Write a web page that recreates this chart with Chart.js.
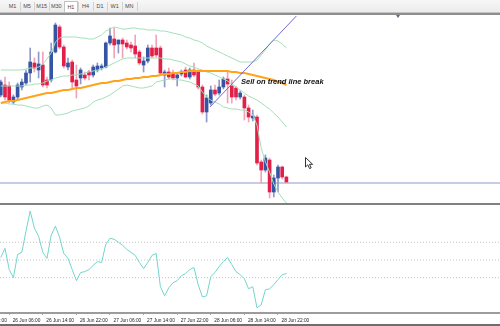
<!DOCTYPE html>
<html>
<head>
<meta charset="utf-8">
<script src="https://cdn.jsdelivr.net/npm/chart.js@4.4.1/dist/chart.umd.min.js"></script>
<style>
  html, body { margin: 0; padding: 0; background: #fff; }
  #wrap { position: relative; width: 500px; height: 326px; overflow: hidden; font-family: "Liberation Sans", Arial, sans-serif; }
  #toolbar { position: absolute; left: 0; top: 0; width: 500px; height: 12px; background: linear-gradient(#f7f7f7, #ececec); }
  .tf { position: absolute; top: 1px; width: 14px; height: 11px; line-height: 11px; font-size: 5.5px; text-align: center; color: #4a4a4a; }
  .tf.on { background: #fff; border: 1px solid #c2c2c2; border-bottom: none; top: 1px; height: 11px; line-height: 11px; width: 12px; }
  .vsep { position: absolute; top: 2px; width: 1px; height: 9px; background: #d2d2d2; }
  #tb1 { position: absolute; left: 0; top: 12px; width: 500px; height: 1px; background: #c4c4c4; }
  #tb2 { position: absolute; left: 0; top: 13px; width: 500px; height: 2px; background: #8e8e8e; }
  #shift { position: absolute; left: 396px; top: 15px; width: 0; height: 0; border-left: 2.5px solid transparent; border-right: 2.5px solid transparent; border-top: 3px solid #5c6b86; }
  #main { position: absolute; left: 0; top: 16px; }
  #sep { position: absolute; left: 0; top: 203px; width: 500px; height: 2px; background: #808080; }
  #ind { position: absolute; left: 0; top: 205px; }
  #bottom { position: absolute; left: 0; top: 324px; width: 500px; height: 2px; background: #6e6e6e; }
  #cursor { position: absolute; left: 305px; top: 157px; }
</style>
</head>
<body>
<div id="wrap">
  <div id="toolbar"></div>
  <div id="tb1"></div>
  <div id="tb2"></div>
  <div id="shift"></div>
  <canvas id="main" width="500" height="187"></canvas>
  <div id="sep"></div>
  <canvas id="ind" width="500" height="121"></canvas>
  <div id="bottom"></div>
  <svg id="cursor" width="10" height="13" viewBox="0 0 10 13">
    <path d="M0.5 0.5 L0.5 10 L2.8 7.8 L4.6 11.6 L6.2 10.9 L4.5 7.3 L7.6 7.3 Z" fill="#fff" stroke="#333" stroke-width="1"/>
  </svg>
</div>

<script>
// timeframe buttons
const timeframes = ["M1", "M5", "M15", "M30", "H1", "H4", "D1", "W1", "MN"];
const activeFrame = "H1";

// hourly candles, 26 Jun 04:00 .. 29 Jun 00:00
const opens  = [1205,1215,1214,1198,1203,1213,1217,1227,1237,1230,1235,1220,1220,1248,1273,1253,1233,1238,1220,1222,1225,1228,1225,1230,1232,1233,1257,1261,1256,1260,1257,1255,1254,1248,1235,1239,1252,1252,1252,1225,1228,1227,1222,1226,1230,1223,1230,1228,1213,1188,1197,1210,1207,1213,1221,1214,1212,1203,1203,1192,1182,1183,1138,1130,1140,1108,1122,1133,1123];
const highs  = [1220,1223,1218,1205,1217,1221,1230,1252,1242,1248,1248,1223,1257,1277,1275,1255,1242,1240,1235,1232,1228,1230,1235,1237,1236,1258,1272,1272,1260,1262,1260,1258,1265,1250,1243,1255,1255,1265,1254,1230,1232,1230,1227,1230,1233,1232,1237,1230,1215,1205,1214,1215,1220,1223,1228,1220,1214,1209,1205,1195,1190,1185,1140,1145,1142,1125,1135,1134,1124];
const lows   = [1203,1200,1197,1196,1201,1210,1215,1218,1228,1222,1213,1212,1218,1247,1251,1232,1230,1212,1202,1216,1220,1220,1223,1228,1230,1232,1255,1242,1247,1242,1251,1248,1242,1235,1228,1237,1242,1243,1225,1213,1221,1220,1214,1224,1222,1221,1223,1211,1186,1178,1195,1204,1205,1211,1197,1197,1200,1201,1180,1178,1179,1135,1117,1128,1102,1103,1108,1121,1117];
const closes = [1218,1203,1200,1203,1215,1218,1227,1238,1232,1236,1215,1215,1248,1275,1253,1234,1237,1218,1214,1230,1222,1225,1233,1234,1234,1257,1264,1255,1260,1256,1253,1252,1246,1237,1239,1252,1244,1245,1227,1228,1223,1222,1225,1228,1223,1230,1225,1213,1188,1202,1210,1206,1213,1221,1216,1203,1203,1207,1192,1183,1184,1137,1130,1142,1108,1122,1133,1123,1118];

// Bollinger bands and moving average
const bandUpper  = [1230,1230,1230,1230,1230,1230,1231,1232,1232,1233,1236,1241,1247,1258,1262,1263,1263,1263,1263,1262,1262,1261,1261,1263,1265,1269,1271,1273,1272,1271,1271,1272,1272,1271,1271,1270,1270,1270,1269,1269,1268,1267,1266,1265,1263,1262,1260,1259,1257,1254,1252,1250,1248,1246,1244,1242,1240,1238,1238,1238,1238,1240,1245,1250,1256,1260,1259,1256,1252];
const bandMiddle = [1214,1214,1214,1214,1214,1214,1215,1215,1216,1216,1217,1219,1220,1222,1223,1224,1224,1225,1225,1226,1227,1228,1229,1230,1231,1233,1235,1237,1239,1241,1242,1242,1242,1242,1242,1242,1242,1242,1242,1241,1241,1240,1239,1238,1236,1234,1233,1231,1230,1228,1227,1225,1223,1221,1219,1216,1213,1210,1207,1204,1202,1200,1197,1194,1191,1187,1183,1178,1173];
const bandLower  = [1197,1197,1196,1196,1195,1195,1194,1193,1192,1192,1194,1195,1192,1185,1185,1186,1187,1189,1190,1191,1192,1194,1198,1200,1201,1203,1205,1208,1211,1214,1215,1214,1213,1212,1212,1213,1214,1218,1219,1220,1221,1221,1220,1220,1219,1218,1216,1214,1208,1203,1200,1198,1196,1193,1192,1191,1191,1190,1190,1188,1185,1175,1152,1138,1128,1116,1108,1102,1097];
const maValues   = [1197,1198,1199,1199,1200,1201,1202,1203,1204,1205,1206,1207,1207,1208,1209,1210,1210,1211,1212,1212,1213,1214,1215,1216,1217,1217,1218,1219,1219,1220,1221,1221,1222,1222,1223,1223,1224,1224,1225,1226,1226,1227,1227,1228,1228,1229,1229,1229,1229,1229,1229,1229,1229,1229,1229,1228,1228,1227,1227,1226,1225,1224,1223,1222,1221,1220,1218,1217,1215];

// oscillator in the lower window
const oscValues = [14,66,-54,-100,31,43,163,277,180,134,43,9,140,191,129,37,9,-54,-117,-71,-66,-54,-31,-9,-14,89,123,117,100,83,60,43,26,-14,-49,-14,26,37,-151,-203,-157,-129,-117,-89,-77,-54,-43,-140,-209,-203,-94,-71,-37,-9,14,-26,-66,-83,-106,-163,-151,-271,-254,-169,-163,-140,-111,-83,-77];
const oscLevels = [100, 0, -100];

// objects on the chart
const trendBars = [49.8, 70.6];
const trendPrices = [1193, 1285];
const bidPrice = 1117;
const noteText = "Sell on trend line break";
const noteBar = 57.2;
const notePrice = 1218;

// time axis
const tickBars = [-6, 2, 10, 18, 26, 34, 42, 50, 58, 66];
const timeLabels = ["25 Jun 22:00", "26 Jun 06:00", "26 Jun 14:00", "26 Jun 22:00", "27 Jun 06:00", "27 Jun 14:00", "27 Jun 22:00", "28 Jun 06:00", "28 Jun 14:00", "28 Jun 22:00"];

// build the toolbar
const toolbar = document.getElementById("toolbar");
timeframes.forEach((tf, i) => {
  const c = 12.5 + 14.6 * i;
  const b = document.createElement("div");
  b.className = "tf" + (tf === activeFrame ? " on" : "");
  b.style.left = (c - 7) + "px";
  b.textContent = tf;
  toolbar.appendChild(b);
  const s = document.createElement("div");
  s.className = "vsep";
  s.style.left = Math.round(c + 7.3) + "px";
  toolbar.appendChild(s);
});

const xMin = -0.19, xMax = 118.86;
const idx = opens.map((_, i) => i);
const up = idx.map(i => closes[i] >= opens[i]);
const series = arr => idx.map(i => ({ x: i, y: arr[i] }));
const flat = (v) => [{ x: xMin, y: v }, { x: xMax, y: v }];

const lineDefaults = { type: "line", pointRadius: 0, tension: 0, fill: false };

const notePlugin = {
  id: "note",
  afterDatasetsDraw(chart) {
    const { ctx, scales } = chart;
    ctx.save();
    ctx.font = 'italic bold 7.5px "Liberation Sans", Arial, sans-serif';
    ctx.fillStyle = "#111";
    ctx.textBaseline = "middle";
    ctx.fillText(noteText, scales.x.getPixelForValue(noteBar), scales.y.getPixelForValue(notePrice));
    ctx.restore();
  }
};

new Chart(document.getElementById("main"), {
  type: "bar",
  data: {
    datasets: [
      { ...lineDefaults, label: "Trend", data: trendBars.map((b, i) => ({ x: b, y: trendPrices[i] })), borderColor: "#6f6ad6", borderWidth: 1, order: 0 },
      { ...lineDefaults, label: "MA", data: series(maValues), borderColor: "#ffa31a", borderWidth: 2, order: 1 },
      { ...lineDefaults, label: "Upper", data: series(bandUpper), borderColor: "#a3dfb8", borderWidth: 1, order: 2 },
      { ...lineDefaults, label: "Middle", data: series(bandMiddle), borderColor: "#a3dfb8", borderWidth: 1, order: 2 },
      { ...lineDefaults, label: "Lower", data: series(bandLower), borderColor: "#a3dfb8", borderWidth: 1, order: 2 },
      { label: "Bodies", data: idx.map(i => ({ x: i, y: [opens[i], closes[i]] })), backgroundColor: up.map(u => u ? "#3654a4" : "#e21f48"), barThickness: 3, grouped: false, order: 5 },
      { label: "Wicks", data: idx.map(i => ({ x: i, y: [lows[i], highs[i]] })), backgroundColor: up.map(u => u ? "#8e98c8" : "#f3a3b6"), barThickness: 1, grouped: false, order: 6 },
      { ...lineDefaults, label: "Bid", data: flat(bidPrice), borderColor: "#b6bbd8", borderWidth: 1.5, order: 7 }
    ]
  },
  options: {
    responsive: false,
    animation: false,
    devicePixelRatio: 1,
    layout: { padding: 0 },
    plugins: { legend: { display: false }, tooltip: { enabled: false } },
    scales: {
      x: { type: "linear", min: xMin, max: xMax, offset: false, display: false },
      y: { type: "linear", min: 1097, max: 1284, display: false }
    }
  },
  plugins: [notePlugin]
});

new Chart(document.getElementById("ind"), {
  type: "line",
  data: {
    datasets: [
      { ...lineDefaults, label: "Osc", data: series(oscValues), borderColor: "#72d5cb", borderWidth: 1 },
      ...oscLevels.map(v => ({ ...lineDefaults, label: "L" + v, data: flat(v), borderColor: "#c6c6c6", borderWidth: 1, borderDash: [1, 2] }))
    ]
  },
  options: {
    responsive: false,
    animation: false,
    devicePixelRatio: 1,
    layout: { padding: 0 },
    plugins: { legend: { display: false }, tooltip: { enabled: false } },
    scales: {
      x: {
        type: "linear", min: xMin, max: xMax, offset: false,
        afterBuildTicks: s => { s.ticks = tickBars.map(v => ({ value: v })); },
        afterFit: s => { s.height = 13; s.paddingLeft = 0; s.paddingRight = 0; },
        ticks: {
          autoSkip: false, maxRotation: 0, minRotation: 0, align: "start", labelOffset: 3.5, padding: 2.5,
          color: "#222", font: { size: 4.8, family: "Liberation Sans" },
          callback: (v, i) => timeLabels[i]
        },
        grid: { drawOnChartArea: false, drawTicks: true, tickLength: 2, color: "#a8a8a8" },
        border: { display: true, color: "#9c9c9c", width: 2 }
      },
      y: { type: "linear", min: -300, max: 311, display: false }
    }
  }
});
</script>
</body>
</html>
